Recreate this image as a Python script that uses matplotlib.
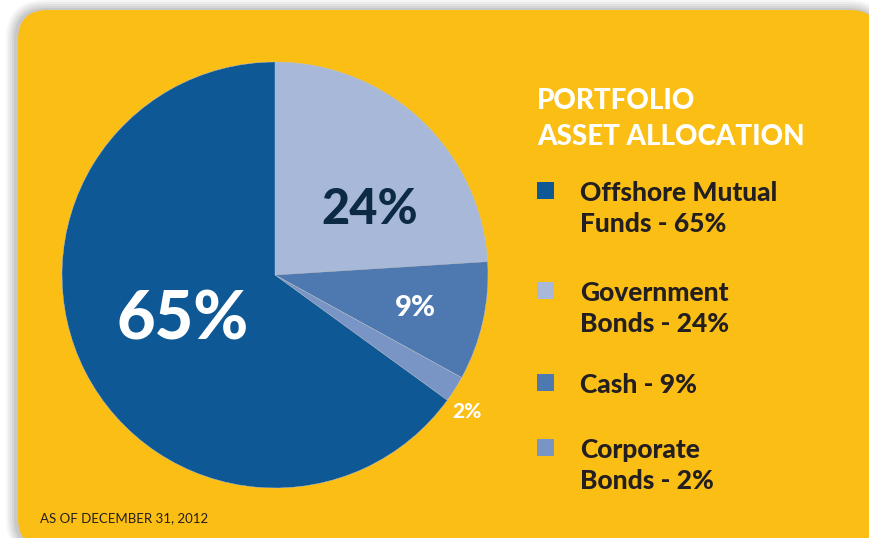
import matplotlib.pyplot as plt
from matplotlib.patches import FancyBboxPatch

# data
labels = ['Government Bonds', 'Cash', 'Corporate Bonds', 'Offshore Mutual Funds']
values = [24, 9, 2, 65]
colors = ['#a8b8d8', '#4e78b0', '#7995c5', '#0e5895']

legend_lines = ['Offshore Mutual\nFunds - 65%', 'Government\nBonds - 24%',
                'Cash - 9%', 'Corporate\nBonds - 2%']
legend_colors = ['#0e5895', '#a8b8d8', '#4e78b0', '#7995c5']

W, H = 869, 538
YELLOW = '#fbbe14'
DARK = '#231f20'
FONT = 'Lato'


def Y(y):
    # pixel row (from top) -> data y
    return H - y


fig = plt.figure(figsize=(W / 100, H / 100), dpi=100)
fig.patch.set_facecolor('white')
ax = fig.add_axes([0, 0, 1, 1])

# soft shadow + yellow panel
for i, a in enumerate([0.05, 0.06, 0.07, 0.08, 0.10]):
    grow = 10 - 2 * i
    sh = FancyBboxPatch((18 - grow - 2, Y(548) - grow), 880 - 18 + 2 * grow, 538 + 2 * grow,
                        boxstyle='round,pad=0,rounding_size=%d' % (30 + grow),
                        fc='#555555', ec='none', alpha=a, zorder=1)
    ax.add_patch(sh)
panel = FancyBboxPatch((18, Y(548)), 880 - 18, 538, boxstyle='round,pad=0,rounding_size=30',
                       fc=YELLOW, ec='none', zorder=2)
ax.add_patch(panel)

# pie
wedges, _ = ax.pie(values, colors=colors, startangle=90, counterclock=False,
                   center=(275, Y(275)), radius=213, frame=True,
                   wedgeprops=dict(linewidth=0.3, edgecolor='#b5c2dc'))
for w in wedges:
    w.set_zorder(3)
ax.set_xlim(0, W)
ax.set_ylim(0, H)
ax.set_aspect('equal')
ax.axis('off')

# slice labels
ax.text(370, Y(209), '24%', color='#0d2a44', fontsize=35, fontweight='black',
        family=FONT, ha='center', va='center', zorder=5)
ax.text(183, Y(320), '65%', color='white', fontsize=48, fontweight='black',
        family=FONT, ha='center', va='center', zorder=5)
ax.text(415, Y(308), '9%', color='white', fontsize=21, fontweight='black',
        family=FONT, ha='center', va='center', zorder=5)
ax.text(467, Y(412), '2%', color='white', fontsize=15, fontweight='black',
        family=FONT, ha='center', va='center', zorder=5)

# title
ax.text(537, Y(101), 'PORTFOLIO', color='white', fontsize=20, fontweight='black',
        family=FONT, ha='left', va='center', zorder=5)
ax.text(537, Y(137), 'ASSET ALLOCATION', color='white', fontsize=20, fontweight='black',
        family=FONT, ha='left', va='center', zorder=5)

# legend
sq_y = [190, 290, 382, 447]
for txt, c, yy in zip(legend_lines, legend_colors, sq_y):
    ax.add_patch(plt.Rectangle((537, Y(yy + 8.5)), 17, 17, fc=c, ec='none', zorder=5))
    ax.text(580, Y(yy - 9), txt, color=DARK, fontsize=19, fontweight='black',
            family=FONT, ha='left', va='top', linespacing=1.33, zorder=5)

# footer
ax.text(40, Y(518), 'AS OF DECEMBER 31, 2012', color=DARK, fontsize=9.5,
        family=FONT, ha='left', va='center', zorder=5)

fig.savefig('out.png', dpi=100, facecolor='white')
